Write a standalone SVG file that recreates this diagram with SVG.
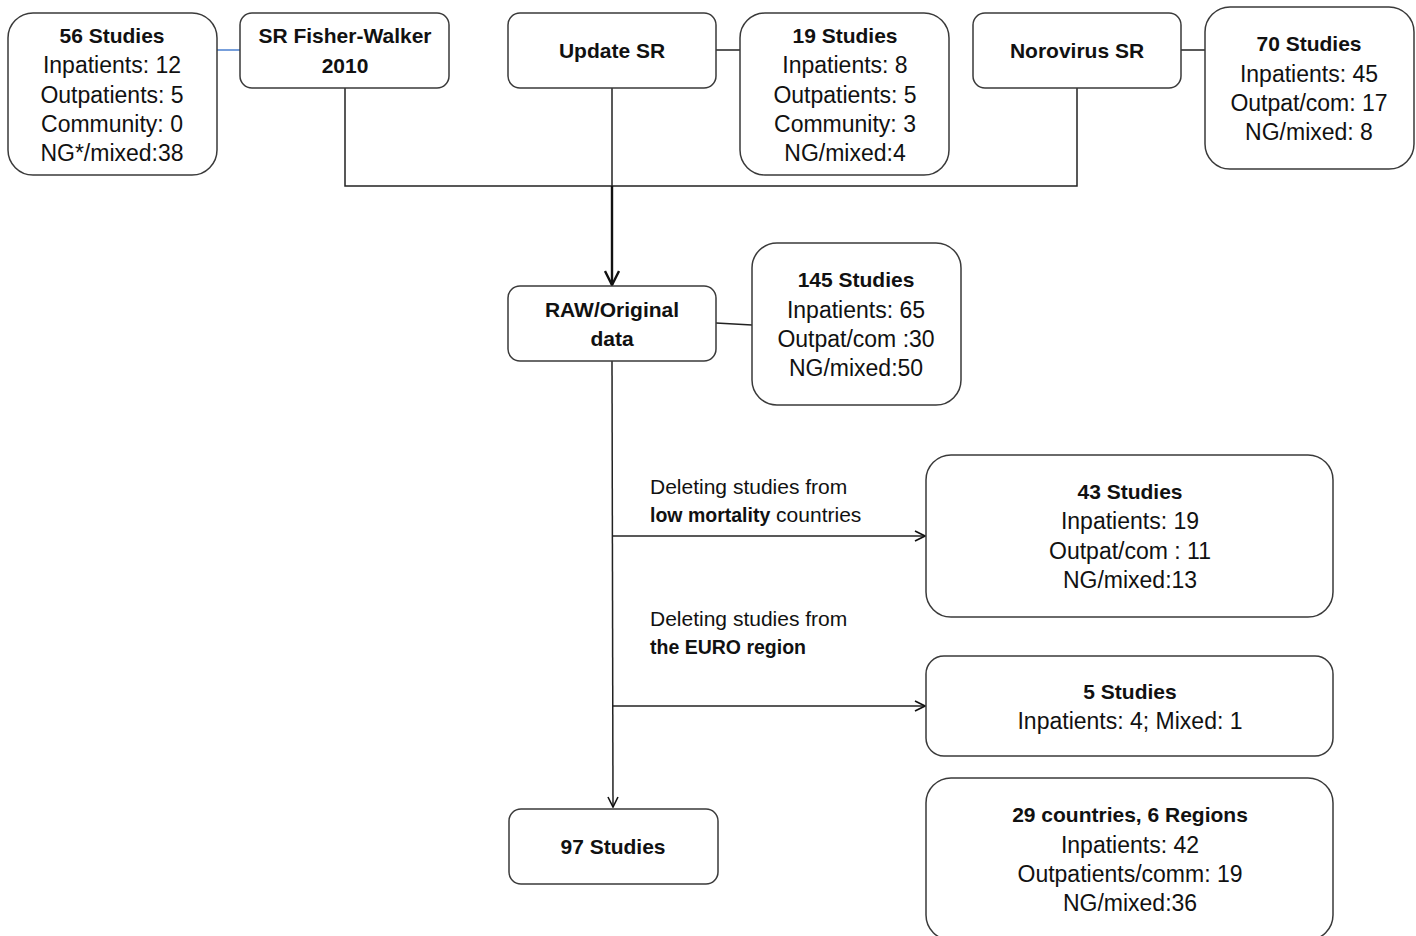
<svg xmlns="http://www.w3.org/2000/svg" width="1416" height="936" viewBox="0 0 1416 936">
<defs>
<style>
.box{fill:#fff;stroke:#3a3a3a;stroke-width:1.5}
.t{font-family:"Liberation Sans",Arial,sans-serif;font-size:23px;fill:#111;text-anchor:middle}
.b{font-weight:bold;font-size:21px}
.l{font-family:"Liberation Sans",Arial,sans-serif;font-size:21px;fill:#111}
.lb{font-weight:bold;font-size:19.5px}
.c{fill:none;stroke:#222;stroke-width:1.5}
</style>
<marker id="ah" viewBox="0 0 12 12" refX="11" refY="6" markerWidth="12" markerHeight="12" markerUnits="userSpaceOnUse" orient="auto">
<path d="M1,1 L11,6 L1,11" fill="none" stroke="#111" stroke-width="1.6"/>
</marker>
<marker id="ah2" viewBox="0 0 16 16" refX="15" refY="8" markerWidth="16" markerHeight="16" markerUnits="userSpaceOnUse" orient="auto">
<path d="M1,1 L15,8 L1,15" fill="none" stroke="#111" stroke-width="2.4"/>
</marker>
</defs>
<rect width="1416" height="936" fill="#fff"/>
<g id="connectors">
<line x1="217" y1="50" x2="240" y2="50" stroke="#4a7fcf" stroke-width="1.5"/>
<line class="c" x1="716" y1="50" x2="740" y2="50"/>
<line class="c" x1="1181" y1="50" x2="1205" y2="50"/>
<polyline class="c" points="345,88 345,186 1077,186 1077,88"/>
<line class="c" x1="612" y1="88" x2="612" y2="186"/>
<line x1="612" y1="186" x2="612" y2="285" stroke="#111" stroke-width="2.4" marker-end="url(#ah2)"/>
<line class="c" x1="716" y1="323" x2="752" y2="325"/>
<line class="c" x1="612" y1="361" x2="613" y2="807" marker-end="url(#ah)"/>
<line class="c" x1="612" y1="536" x2="925" y2="536" marker-end="url(#ah)"/>
<line class="c" x1="612" y1="706" x2="925" y2="706" marker-end="url(#ah)"/>
<text class="l" x="650" y="494">Deleting studies from</text>
<text class="l" x="650" y="522"><tspan class="lb">low mortality</tspan> countries</text>
<text class="l" x="650" y="626">Deleting studies from</text>
<text class="l lb" x="650" y="654">the EURO region</text>
</g>
<g id="n56">
<rect class="box" x="8" y="13" width="209" height="162" rx="25"/>
<text class="t b" x="112" y="43">56 Studies</text>
<text class="t" x="112" y="73">Inpatients: 12</text>
<text class="t" x="112" y="103">Outpatients: 5</text>
<text class="t" x="112" y="132">Community: 0</text>
<text class="t" x="112" y="161">NG*/mixed:38</text>
</g>
<g id="nFW">
<rect class="box" x="240" y="13" width="209" height="75" rx="12"/>
<text class="t b" x="345" y="43">SR Fisher-Walker</text>
<text class="t b" x="345" y="73">2010</text>
</g>
<g id="nUpdate">
<rect class="box" x="508" y="13" width="208" height="75" rx="12"/>
<text class="t b" x="612" y="58">Update SR</text>
</g>
<g id="n19">
<rect class="box" x="740" y="13" width="209" height="162" rx="25"/>
<text class="t b" x="845" y="43">19 Studies</text>
<text class="t" x="845" y="73">Inpatients: 8</text>
<text class="t" x="845" y="103">Outpatients: 5</text>
<text class="t" x="845" y="132">Community: 3</text>
<text class="t" x="845" y="161">NG/mixed:4</text>
</g>
<g id="nNoro">
<rect class="box" x="973" y="13" width="208" height="75" rx="12"/>
<text class="t b" x="1077" y="58">Norovirus SR</text>
</g>
<g id="n70">
<rect class="box" x="1205" y="7" width="209" height="162" rx="25"/>
<text class="t b" x="1309" y="51">70 Studies</text>
<text class="t" x="1309" y="82">Inpatients: 45</text>
<text class="t" x="1309" y="111">Outpat/com: 17</text>
<text class="t" x="1309" y="140">NG/mixed: 8</text>
</g>
<g id="nRaw">
<rect class="box" x="508" y="286" width="208" height="75" rx="12"/>
<text class="t b" x="612" y="317">RAW/Original</text>
<text class="t b" x="612" y="346">data</text>
</g>
<g id="n145">
<rect class="box" x="752" y="243" width="209" height="162" rx="25"/>
<text class="t b" x="856" y="287">145 Studies</text>
<text class="t" x="856" y="318">Inpatients: 65</text>
<text class="t" x="856" y="347">Outpat/com :30</text>
<text class="t" x="856" y="376">NG/mixed:50</text>
</g>
<g id="n43">
<rect class="box" x="926" y="455" width="407" height="162" rx="25"/>
<text class="t b" x="1130" y="499">43 Studies</text>
<text class="t" x="1130" y="529">Inpatients: 19</text>
<text class="t" x="1130" y="559">Outpat/com : 11</text>
<text class="t" x="1130" y="588">NG/mixed:13</text>
</g>
<g id="n5">
<rect class="box" x="926" y="656" width="407" height="100" rx="18"/>
<text class="t b" x="1130" y="699">5 Studies</text>
<text class="t" x="1130" y="729">Inpatients: 4; Mixed: 1</text>
</g>
<g id="n97">
<rect class="box" x="509" y="809" width="209" height="75" rx="12"/>
<text class="t b" x="613" y="854">97 Studies</text>
</g>
<g id="n29">
<rect class="box" x="926" y="778" width="407" height="162" rx="25"/>
<text class="t b" x="1130" y="822">29 countries, 6 Regions</text>
<text class="t" x="1130" y="853">Inpatients: 42</text>
<text class="t" x="1130" y="882">Outpatients/comm: 19</text>
<text class="t" x="1130" y="911">NG/mixed:36</text>
</g>
</svg>
